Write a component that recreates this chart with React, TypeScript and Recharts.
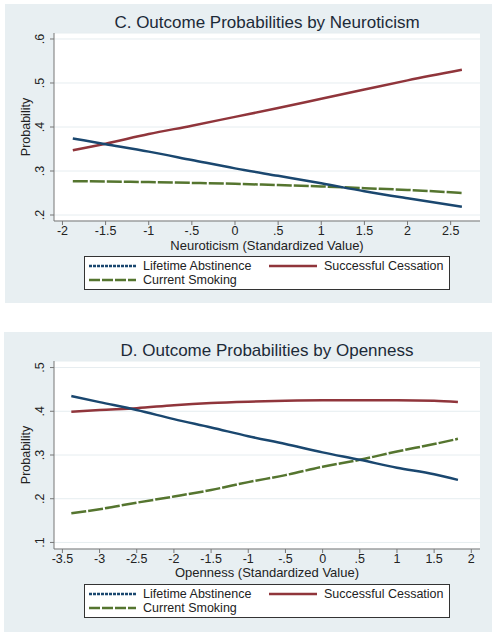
import { CartesianGrid, Line, LineChart, XAxis, YAxis } from 'recharts';

// Panel C: Neuroticism
const neuroX = [-1.88, -1.5, -1, -0.5, 0, 0.5, 1, 1.5, 2, 2.63];
const neuroAbstinence = [0.374, 0.361, 0.344, 0.325, 0.306, 0.289, 0.272, 0.254, 0.238, 0.219];
const neuroCessation = [0.347, 0.362, 0.384, 0.403, 0.423, 0.443, 0.464, 0.485, 0.506, 0.53];
const neuroSmoking = [0.277, 0.276, 0.275, 0.273, 0.271, 0.268, 0.265, 0.261, 0.257, 0.25];
const neuroXTicks = [-2, -1.5, -1, -0.5, 0, 0.5, 1, 1.5, 2, 2.5];
const neuroYTicks = [0.2, 0.3, 0.4, 0.5, 0.6];

// Panel D: Openness
const openX = [-3.38, -3, -2.5, -2, -1.5, -1, -0.5, 0, 0.5, 1, 1.5, 1.82];
const openAbstinence = [0.435, 0.421, 0.403, 0.382, 0.363, 0.343, 0.325, 0.306, 0.289, 0.271, 0.256, 0.243];
const openCessation = [0.399, 0.403, 0.407, 0.414, 0.419, 0.422, 0.424, 0.425, 0.425, 0.425, 0.424, 0.421];
const openSmoking = [0.167, 0.176, 0.191, 0.205, 0.22, 0.238, 0.254, 0.273, 0.289, 0.308, 0.325, 0.337];
const openXTicks = [-3.5, -3, -2.5, -2, -1.5, -1, -0.5, 0, 0.5, 1, 1.5, 2];
const openYTicks = [0.1, 0.2, 0.3, 0.4, 0.5];

const BLUE = '#1a476f';
const RED = '#90353b';
const GREEN = '#55752f';
const PANEL_BG = '#e8eff2';
const FONT = '"Liberation Sans", Arial, sans-serif';

const fmt = (v: number) => String(Math.round(v * 10) / 10).replace(/^(-?)0\./, '$1.');

const build = (xs: number[], a: number[], c: number[], s: number[]) =>
  xs.map((x, i) => ({ x, abstinence: a[i], cessation: c[i], smoking: s[i] }));

const YTick = (props: any) => {
  const { y, payload } = props;
  return (
    <text
      x={44}
      y={y}
      transform={`rotate(-90 44 ${y})`}
      textAnchor="middle"
      fontSize={12.5}
      fontFamily={FONT}
      fill="#222"
    >
      {fmt(payload.value)}
    </text>
  );
};

const XTick = (props: any) => {
  const { x, y, payload } = props;
  return (
    <text x={x} y={y + 8} textAnchor="middle" fontSize={12.5} fontFamily={FONT} fill="#222">
      {fmt(payload.value)}
    </text>
  );
};

type PanelProps = {
  top: number;
  height: number;
  bg: { left: number; top: number; width: number; height: number };
  title: string;
  titleY: number;
  xLabel: string;
  data: any[];
  xDomain: [number, number];
  xTicks: number[];
  yDomain: [number, number];
  yTicks: number[];
  plotTop: number;
  plotBottom: number;
  xLabelY: number;
  probY: number;
  legendTop: number;
};

const PLOT_LEFT = 54;
const PLOT_RIGHT = 480;

const Panel = (p: PanelProps) => {
  return (
    <div style={{ position: 'absolute', left: 0, top: p.top, width: 496, height: p.height }}>
      <div
        style={{
          position: 'absolute',
          left: p.bg.left,
          top: p.bg.top,
          width: p.bg.width,
          height: p.bg.height,
          background: PANEL_BG,
        }}
      />
      <div
        style={{
          position: 'absolute',
          left: PLOT_LEFT,
          width: PLOT_RIGHT - PLOT_LEFT,
          top: p.titleY - 10,
          textAlign: 'center',
          fontFamily: FONT,
          fontSize: 17,
          lineHeight: '20px',
          color: '#1c2a38',
        }}
      >
        {p.title}
      </div>
      <div style={{ position: 'absolute', left: 0, top: 0 }}>
        <LineChart
          width={496}
          height={p.height}
          data={p.data}
          margin={{ top: p.plotTop, right: 496 - PLOT_RIGHT, bottom: 0, left: 0 }}
        >
          <CartesianGrid fill="#ffffff" stroke="#e6edf0" vertical={false} />
          <XAxis
            dataKey="x"
            type="number"
            domain={p.xDomain}
            ticks={p.xTicks}
            allowDataOverflow
            height={p.height - p.plotBottom}
            tickSize={4}
            stroke="#777"
            tick={<XTick />}
          />
          <YAxis
            type="number"
            domain={p.yDomain}
            ticks={p.yTicks}
            allowDataOverflow
            width={PLOT_LEFT}
            tickSize={4}
            stroke="#777"
            tick={<YTick />}
          />
          <Line
            type="monotone"
            dataKey="smoking"
            stroke={GREEN}
            strokeWidth={2.5}
            strokeDasharray="15 2"
            dot={false}
            isAnimationActive={false}
          />
          <Line
            type="monotone"
            dataKey="cessation"
            stroke={RED}
            strokeWidth={2.5}
            dot={false}
            isAnimationActive={false}
          />
          <Line
            type="monotone"
            dataKey="abstinence"
            stroke={BLUE}
            strokeWidth={2.5}
            dot={false}
            isAnimationActive={false}
          />
        </LineChart>
      </div>
      <div
        style={{
          position: 'absolute',
          left: 20,
          top: p.probY - 7,
          width: 12,
          height: 14,
          fontFamily: FONT,
          fontSize: 12.5,
          lineHeight: '14px',
          color: '#222',
        }}
      >
        <div
          style={{
            position: 'absolute',
            left: -34,
            top: 0,
            width: 80,
            textAlign: 'center',
            transform: 'rotate(-90deg)',
          }}
        >
          Probability
        </div>
      </div>
      <div
        style={{
          position: 'absolute',
          left: PLOT_LEFT,
          width: PLOT_RIGHT - PLOT_LEFT,
          top: p.xLabelY - 5,
          textAlign: 'center',
          fontFamily: FONT,
          fontSize: 13,
          lineHeight: '14px',
          color: '#222',
        }}
      >
        {p.xLabel}
      </div>
      <div
        style={{
          position: 'absolute',
          left: 84,
          top: p.legendTop,
          width: 364,
          height: 32,
          background: '#fff',
          border: '1px solid #333',
          fontFamily: FONT,
          fontSize: 12.5,
          color: '#222',
        }}
      >
        <svg width={364} height={32} style={{ position: 'absolute', left: 0, top: 0 }}>
          <line x1={4} x2={51} y1={9} y2={9} stroke={BLUE} strokeWidth={2.5} strokeDasharray="3 1" />
          <line x1={184} x2={232} y1={9} y2={9} stroke={RED} strokeWidth={2.5} />
          <line x1={4} x2={51} y1={23} y2={23} stroke={GREEN} strokeWidth={2.5} strokeDasharray="11 2" />
        </svg>
        <div style={{ position: 'absolute', left: 58, top: 2, lineHeight: '14px' }}>Lifetime Abstinence</div>
        <div style={{ position: 'absolute', left: 239, top: 2, lineHeight: '14px' }}>Successful Cessation</div>
        <div style={{ position: 'absolute', left: 58, top: 16, lineHeight: '14px' }}>Current Smoking</div>
      </div>
    </div>
  );
};

const App = () => {
  return (
    <div style={{ position: 'absolute', left: 0, top: 0, width: 496, height: 635, background: '#fff' }}>
      <Panel
        top={0}
        height={310}
        bg={{ left: 5, top: 4, width: 487, height: 299 }}
        title="C. Outcome Probabilities by Neuroticism"
        titleY={23}
        xLabel="Neuroticism (Standardized Value)"
        data={build(neuroX, neuroAbstinence, neuroCessation, neuroSmoking)}
        xDomain={[-2.098, 2.84]}
        xTicks={neuroXTicks}
        yDomain={[0.1864, 0.6136]}
        yTicks={neuroYTicks}
        plotTop={33}
        plotBottom={221}
        xLabelY={244}
        probY={127}
        legendTop={256}
      />
      <Panel
        top={320}
        height={315}
        bg={{ left: 4, top: 12, width: 488, height: 300 }}
        title="D. Outcome Probabilities by Openness"
        titleY={31}
        xLabel="Openness (Standardized Value)"
        data={build(openX, openAbstinence, openCessation, openSmoking)}
        xDomain={[-3.613, 2.117]}
        xTicks={openXTicks}
        yDomain={[0.085, 0.515]}
        yTicks={openYTicks}
        plotTop={41}
        plotBottom={229}
        xLabelY={251}
        probY={135}
        legendTop={264}
      />
    </div>
  );
};

export default App;
